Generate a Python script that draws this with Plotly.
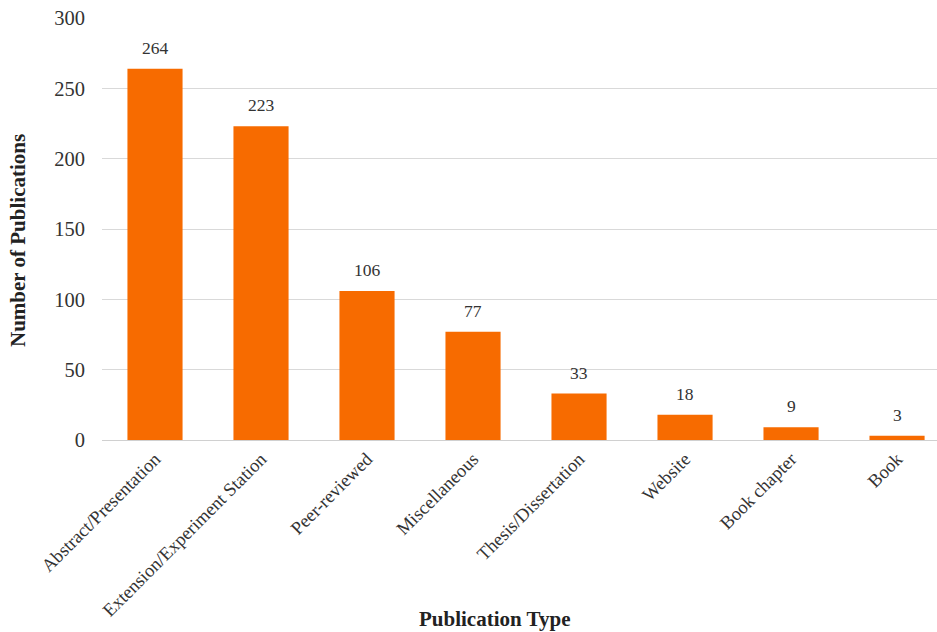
import plotly.graph_objects as go

categories = ["Abstract/Presentation", "Extension/Experiment Station", "Peer-reviewed",
              "Miscellaneous", "Thesis/Dissertation", "Website", "Book chapter", "Book"]
counts = [264, 223, 106, 77, 33, 18, 9, 3]
y_ticks = [0, 50, 100, 150, 200, 250, 300]

FONT = "Liberation Serif, Times New Roman, serif"

fig = go.Figure(go.Bar(
    x=categories, y=counts,
    marker=dict(color="#F76B00", line=dict(width=0)),
    width=0.52,
    hoverinfo="x+y",
))

# data labels above bars
for cat, val in zip(categories, counts):
    fig.add_annotation(x=cat, y=val, xref="x", yref="y", text=str(val),
                       showarrow=False, yanchor="bottom", yshift=9,
                       font=dict(family=FONT, size=17.5, color="#333333"))

# axis titles
fig.add_annotation(x=(495 - 102) / 835, y=-(619 - 440) / 422, xref="paper", yref="paper",
                   text="<b>Publication Type</b>", showarrow=False,
                   xanchor="center", yanchor="middle",
                   font=dict(family=FONT, size=21, color="#222222"))
fig.add_annotation(x=-(102 - 18) / 835, y=(440 - 241) / 422, xref="paper", yref="paper",
                   text="<b>Number of Publications</b>", showarrow=False, textangle=-90,
                   xanchor="center", yanchor="middle",
                   font=dict(family=FONT, size=21, color="#222222"))

fig.update_layout(
    width=937, height=632,
    margin=dict(l=102, r=0, t=18, b=192),
    paper_bgcolor="white", plot_bgcolor="white",
    font=dict(family=FONT, color="#333333"),
    showlegend=False,
)
fig.update_xaxes(
    range=[-0.5, 7.377],
    tickangle=-45,
    tickfont=dict(family=FONT, size=18.5, color="#333333"),
    showline=True, linecolor="#d0d0d0", linewidth=1,
    ticks="",
)
fig.update_yaxes(
    range=[0, 300], tickvals=y_ticks,
    tickfont=dict(family=FONT, size=20.5, color="#333333"),
    showgrid=True, gridcolor="#d9d9d9", gridwidth=1,
    zeroline=False, ticks="", ticklabelstandoff=16,
)

fig.write_html("out.html")
